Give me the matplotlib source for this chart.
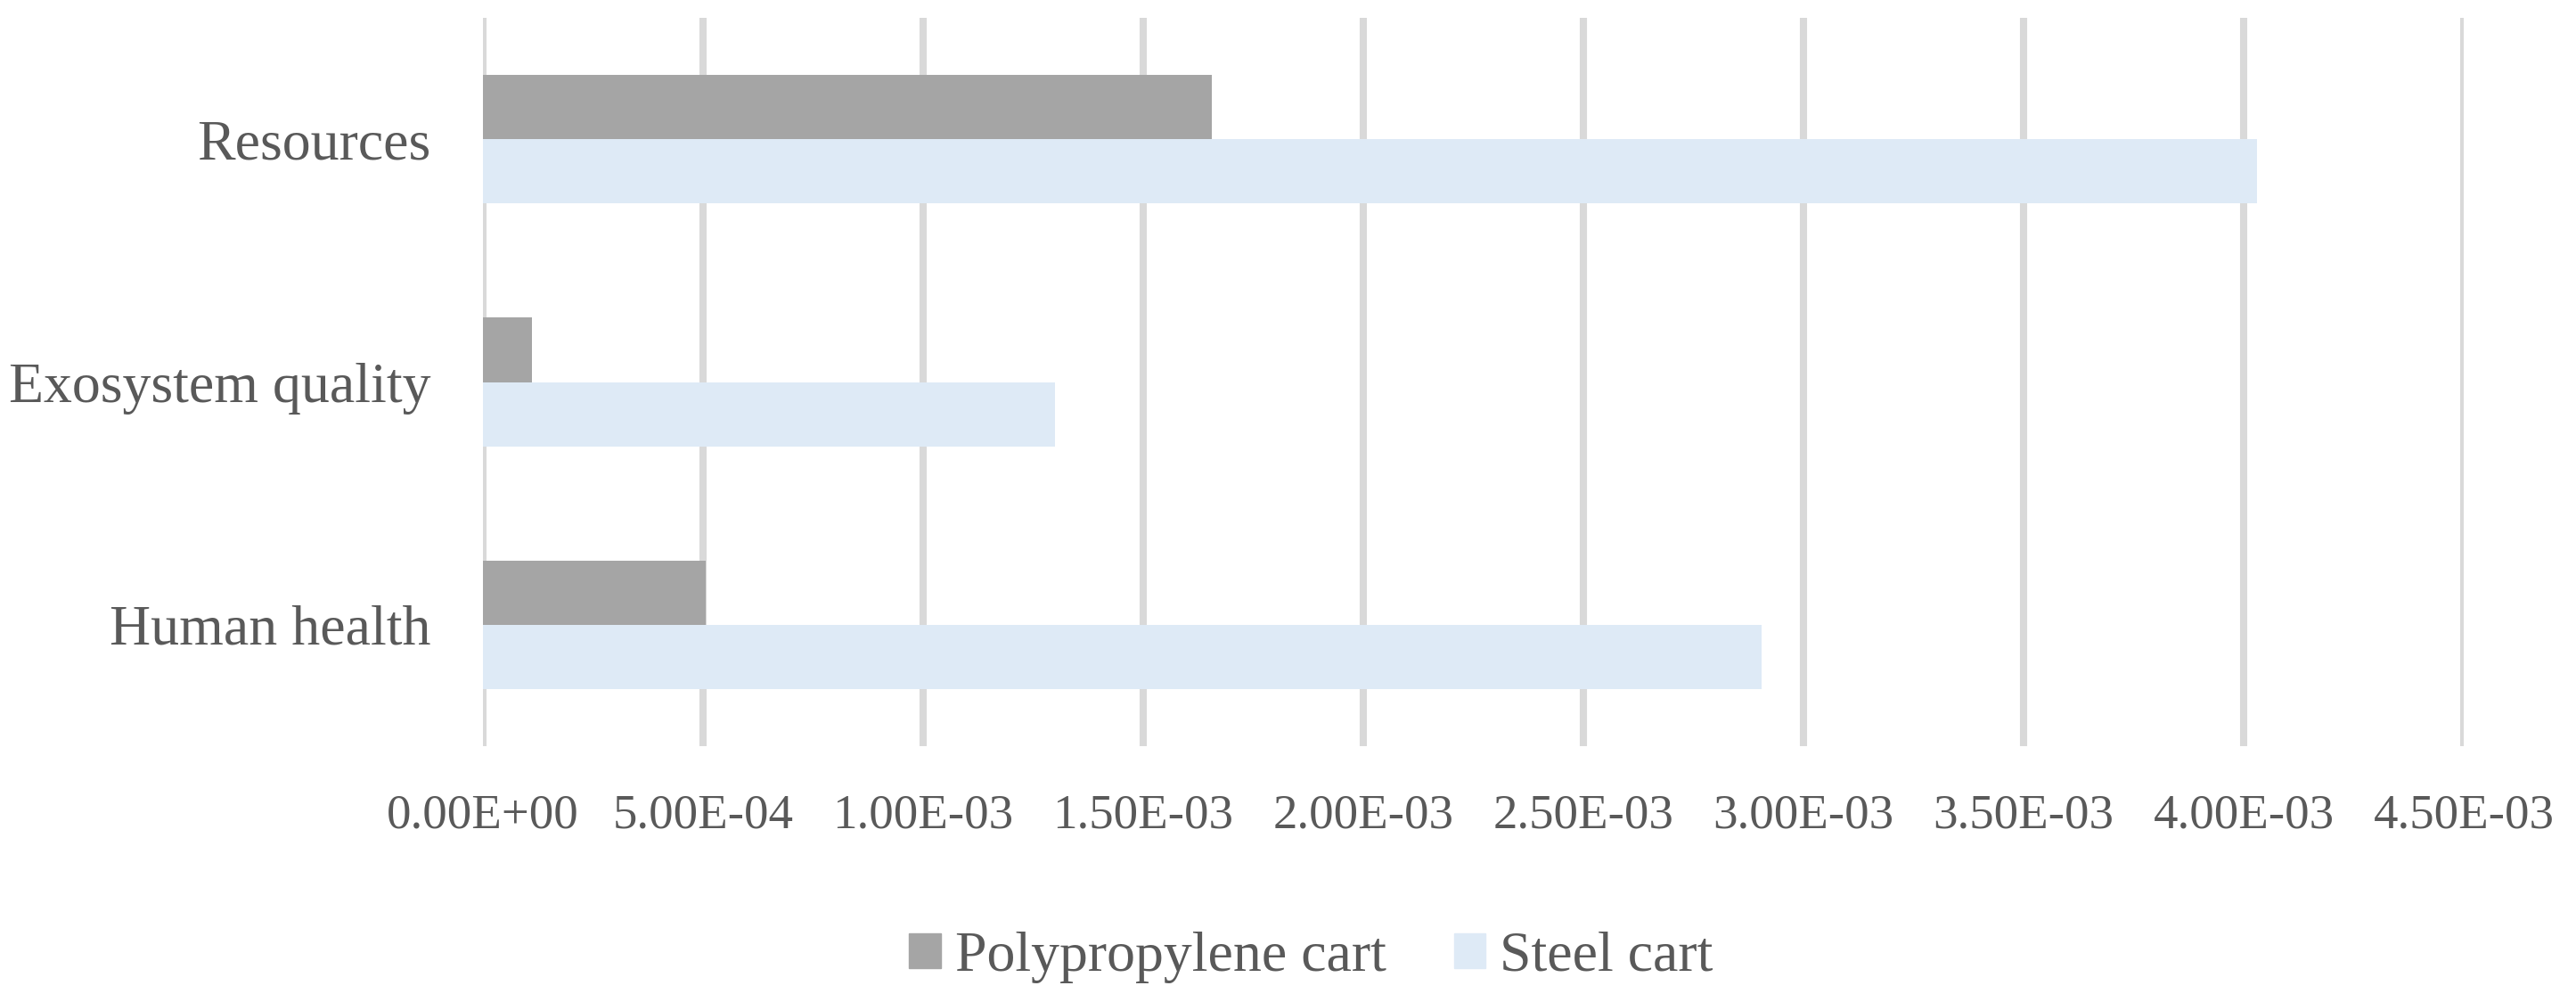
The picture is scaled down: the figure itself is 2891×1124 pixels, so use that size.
import numpy as np
import matplotlib
matplotlib.use("Agg")
import matplotlib.pyplot as plt
from matplotlib.patches import Patch

## data (bottom to top)
categories = ["Human health", "Exosystem quality", "Resources"]
polypropylene = [5.05e-4, 1.12e-4, 1.655e-3]
steel = [2.905e-3, 1.30e-3, 4.03e-3]
xticks = [0, 5e-4, 1e-3, 1.5e-3, 2e-3, 2.5e-3, 3e-3, 3.5e-3, 4e-3, 4.5e-3]
xtick_labels = ["0.00E+00", "5.00E-04", "1.00E-03", "1.50E-03", "2.00E-03",
                "2.50E-03", "3.00E-03", "3.50E-03", "4.00E-03", "4.50E-03"]

TEXT = "#595959"
FAMILY = ["Liberation Serif", "DejaVu Serif"]
plt.rcParams["font.family"] = FAMILY

fig = plt.figure(figsize=(28.91, 11.24), dpi=100)
ax = fig.add_axes([0.1875, 0.2553, 0.9564 - 0.1875, 0.9822 - 0.2553])

y = np.arange(len(categories))
h = 0.265
ax.barh(y + h / 2, polypropylene, height=h, color="#A5A5A5", zorder=3)
ax.barh(y - h / 2, steel, height=h, color="#DEEAF6", zorder=3)

ax.set_xlim(0, 4.5e-3)
ax.set_ylim(-0.5, 2.5)
ax.set_xticks(xticks)
ax.set_xticklabels(xtick_labels, fontsize=39.5, color=TEXT)
ax.set_yticks(y)
ax.set_yticklabels(categories, fontsize=46, color=TEXT)
ax.tick_params(axis="x", length=0, pad=38)
ax.tick_params(axis="y", length=0, pad=42)
ax.grid(axis="x", color="#D9D9D9", linewidth=5.8, zorder=0)
ax.set_axisbelow(True)
for s in ax.spines.values():
    s.set_visible(False)

handles = [Patch(color="#A5A5A5", label="Polypropylene cart"),
           Patch(color="#DEEAF6", label="Steel cart")]
leg = fig.legend(handles=handles, loc="center", bbox_to_anchor=(0.509, 0.0445),
                 ncol=2, frameon=False, prop={"family": FAMILY, "size": 46},
                 handlelength=0.55, handleheight=0.55, handletextpad=0.25,
                 columnspacing=1.2)
for t in leg.get_texts():
    t.set_color(TEXT)

fig.savefig("out.png", dpi=100)
